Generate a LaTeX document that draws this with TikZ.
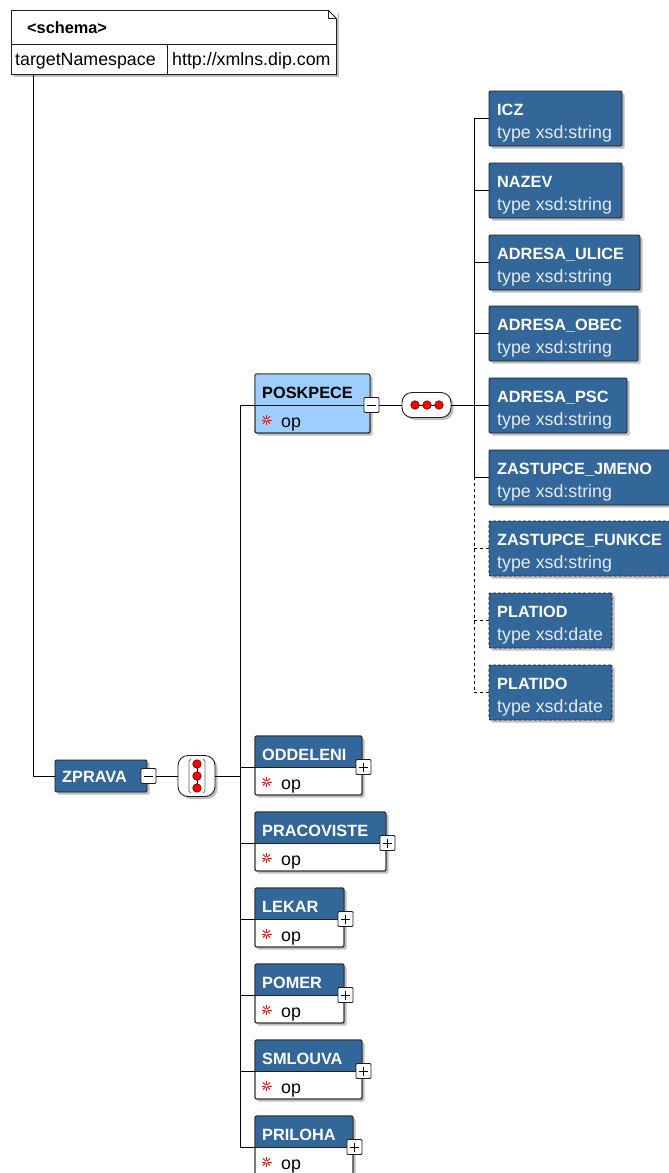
\documentclass[tikz,border=0pt]{standalone}
\usepackage{fontspec}
\setmainfont{Liberation Sans}
\usetikzlibrary{shadows}
\definecolor{eblue}{HTML}{336699}
\definecolor{lblue}{HTML}{9DCEFF}
\definecolor{tgrey}{HTML}{E6ECF3}
\definecolor{edge}{HTML}{1E1E1E}
\newcommand\nmf{\fontsize{16.3}{18}\selectfont\bfseries}
\newcommand\tyf{\fontsize{17.8}{20}\selectfont}
\tikzset{
 shad/.style={drop shadow={shadow xshift=2.5pt, shadow yshift=-2.5pt, fill=black, opacity=0.25}},
 elem/.style={shape=rectangle, draw=edge, fill=eblue, line width=0.9pt, rounded corners=1.2pt, shad, inner sep=0, outer sep=0, anchor=north west},
 optelem/.style={elem, dash pattern=on 3pt off 2pt},
 cbox/.style={elem, fill=white},
 border/.style={draw=edge, line width=0.9pt, rounded corners=1.2pt},
 nm/.style={font=\nmf, text=white, anchor=base west, inner sep=0},
 ty/.style={font=\tyf, text=tgrey, anchor=base west, inner sep=0},
 wire/.style={draw=black, line width=0.9pt},
 owire/.style={wire, dash pattern=on 3pt off 3pt},
 btn/.style={shape=rectangle, draw=edge, fill=white, line width=0.9pt, minimum width=15pt, minimum height=15pt, inner sep=0, outer sep=0, rounded corners=1pt},
 sgn/.style={draw=black, line width=1pt},
 compo/.style={shape=rectangle, draw=edge, fill=white, line width=0.9pt, inner sep=0, outer sep=0, shad},
 dot/.style={circle, fill=red, draw=red!40!black, line width=0.6pt, minimum size=8.5pt, inner sep=0},
 astk/.style={draw=red, line width=1pt},
}
% right-hand leaf elements
\newcommand\leaf[6]{%
 \node[#4, minimum width={#3-489}, minimum height=55] (#1) at (489,#2) {};
 \node[nm] (#1-n) at (497,#2+24) {#5};
 \node[ty] (#1-t) at (497,#2+47) {#6};
}
% left-hand complex elements: id, top, right, label, header colour, body colour, name colour
\newcommand\celem[7]{%
 \node[cbox, fill=#6, minimum width={#3-255}, minimum height=59] (#1) at (255,#2) {};
 \fill[#5] (#1.north west) rectangle ([yshift=-31pt]#1.north east);
 \draw[border] (#1.north west) rectangle (#1.south east);
 \draw[draw=edge, line width=0.9pt] ([yshift=-31pt]#1.north west) -- ([yshift=-31pt]#1.north east);
 \node[nm, text=#7] (#1-n) at (262,#2+24) {#4};
 \coordinate (#1-s) at (266.5,#2+46);
 \foreach \a in {0,45,90,135} \draw[astk] (#1-s) ++(\a:5) -- ++(\a+180:10);
 \fill[#6] (#1-s) circle (1.3);
 \node[ty, text=black] (#1-o) at (281,#2+53) {op};
 \node[btn] (#1-b) at ([xshift=1.5pt,yshift=-31pt]#1.north east) {};
 \draw[sgn] ([xshift=3pt]#1-b.west) -- ([xshift=-3pt]#1-b.east);
}
\newcommand\plusbar[1]{\draw[sgn] ([yshift=-3pt]#1-b.north) -- ([yshift=3pt]#1-b.south);}
\begin{document}
\begin{tikzpicture}[x=1pt,y=-1pt]
\useasboundingbox (0,0) rectangle (669,1173);
\fill[white] (0,0) rectangle (669,1173);

% schema box
\node[shape=rectangle, draw=edge, fill=white, line width=0.9pt, outer sep=0, inner sep=0, anchor=north west, minimum width=325, minimum height=64, shad] (schema) at (11,10) {};
\fill[white] ([xshift=-9pt,yshift=1pt]schema.north east) -- ([xshift=1.5pt,yshift=1pt]schema.north east) -- ([xshift=1.5pt,yshift=-9pt]schema.north east) -- cycle;
\draw[draw=edge, line width=0.9pt] ([xshift=-8pt]schema.north east) -- ([yshift=-8pt]schema.north east);
\draw[draw=edge, line width=0.6pt] ([xshift=-8pt]schema.north east) |- ([yshift=-8pt]schema.north east);
\draw[draw=edge, line width=0.9pt] ([yshift=-34pt]schema.north west) -- ([yshift=-34pt]schema.north east);
\draw[draw=edge, line width=0.9pt] ([xshift=156pt]schema.south west) -- ([xshift=156pt,yshift=30pt]schema.south west);
\node[nm, text=black] (schema-t) at (27,33) {<schema>};
\node[ty, text=black] (ns-k) at (15,65) {targetNamespace};
\node[ty, text=black] (ns-v) at (172,65) {http://xmlns.dip.com};

% ZPRAVA
\node[elem, minimum width=92, minimum height=32] (zprava) at (55,760) {};
\node[nm] (zprava-n) at (62,782) {ZPRAVA};
\node[btn] (zprava-b) at ([xshift=1.5pt]zprava.east) {};
\draw[sgn] ([xshift=3pt]zprava-b.west) -- ([xshift=-3pt]zprava-b.east);
\draw[wire] ([xshift=22pt]schema.south west) |- (zprava.west);

% all compositor
\node[compo, minimum width=37, minimum height=41, rounded corners=10pt] (all) at (196.5,776) {};
\draw[draw=black!60, line width=0.7pt] (191,759) -- (189,761) -- (189,791) -- (191,793);
\draw[draw=black!60, line width=0.7pt] (203,759) -- (205,761) -- (205,791) -- (203,793);
\draw[draw=black, line width=0.8pt] (197,764) -- (197,788);
\node[dot] (all-d1) at (197,764) {};
\node[dot] (all-d2) at (197,776) {};
\node[dot] (all-d3) at (197,788) {};
\draw[wire] (zprava-b.east) -- (all.west);

% left column
\celem{poskpece}{374}{370}{POSKPECE}{lblue}{lblue}{black}
\celem{oddeleni}{736}{362}{ODDELENI}{eblue}{white}{white}
\plusbar{oddeleni}
\celem{pracoviste}{812}{386}{PRACOVISTE}{eblue}{white}{white}
\plusbar{pracoviste}
\celem{lekar}{888}{344}{LEKAR}{eblue}{white}{white}
\plusbar{lekar}
\celem{pomer}{964}{344}{POMER}{eblue}{white}{white}
\plusbar{pomer}
\celem{smlouva}{1040}{362}{SMLOUVA}{eblue}{white}{white}
\plusbar{smlouva}
\celem{priloha}{1116}{353}{PRILOHA}{eblue}{white}{white}
\plusbar{priloha}

\draw[wire] ([yshift=-31pt]poskpece.north west) -- ++(-15,0) |- ([yshift=-31pt]priloha.north west);
\foreach \n in {oddeleni,pracoviste,lekar,pomer,smlouva}
  \draw[wire] ([yshift=-31pt]\n.north west) -- ++(-15,0);
\draw[wire] (all.east) -- ([xshift=-15pt]all.east -| oddeleni.west);

% sequence compositor
\node[compo, minimum width=49, minimum height=25, rounded corners=10pt] (seq) at (426.5,405) {};
\draw[draw=black, line width=0.8pt] (415,405) -- (439,405);
\node[dot] (seq-d1) at (415,405) {};
\node[dot] (seq-d2) at (427,405) {};
\node[dot] (seq-d3) at (439,405) {};
\draw[wire] (poskpece-b.east) -- (seq.west);

% right column
\leaf{icz}{91}{622}{elem}{ICZ}{type xsd:string}
\leaf{nazev}{163}{622}{elem}{NAZEV}{type xsd:string}
\leaf{ulice}{235}{640}{elem}{ADRESA\_ULICE}{type xsd:string}
\leaf{obec}{306}{638}{elem}{ADRESA\_OBEC}{type xsd:string}
\leaf{psc}{378}{627}{elem}{ADRESA\_PSC}{type xsd:string}
\leaf{jmeno}{450}{682}{elem}{ZASTUPCE\_JMENO}{type xsd:string}
\leaf{funkce}{521}{682}{optelem}{ZASTUPCE\_FUNKCE}{type xsd:string}
\leaf{platiod}{593}{612}{optelem}{PLATIOD}{type xsd:date}
\leaf{platido}{665}{612}{optelem}{PLATIDO}{type xsd:date}

\draw[wire] (seq.east) -- ([yshift=-27pt]psc.north west);
\draw[wire] ([xshift=-15pt,yshift=-27pt]icz.north west) -- ([xshift=-15pt,yshift=-27pt]jmeno.north west);
\draw[owire] ([xshift=-15pt,yshift=-27pt]jmeno.north west) -- ([xshift=-15pt,yshift=-27pt]platido.north west);
\foreach \n in {icz,nazev,ulice,obec,jmeno}
  \draw[wire] ([yshift=-27pt]\n.north west) -- ++(-15,0);
\foreach \n in {funkce,platiod,platido}
  \draw[owire] ([yshift=-27pt]\n.north west) -- ++(-15,0);
\end{tikzpicture}
\end{document}
